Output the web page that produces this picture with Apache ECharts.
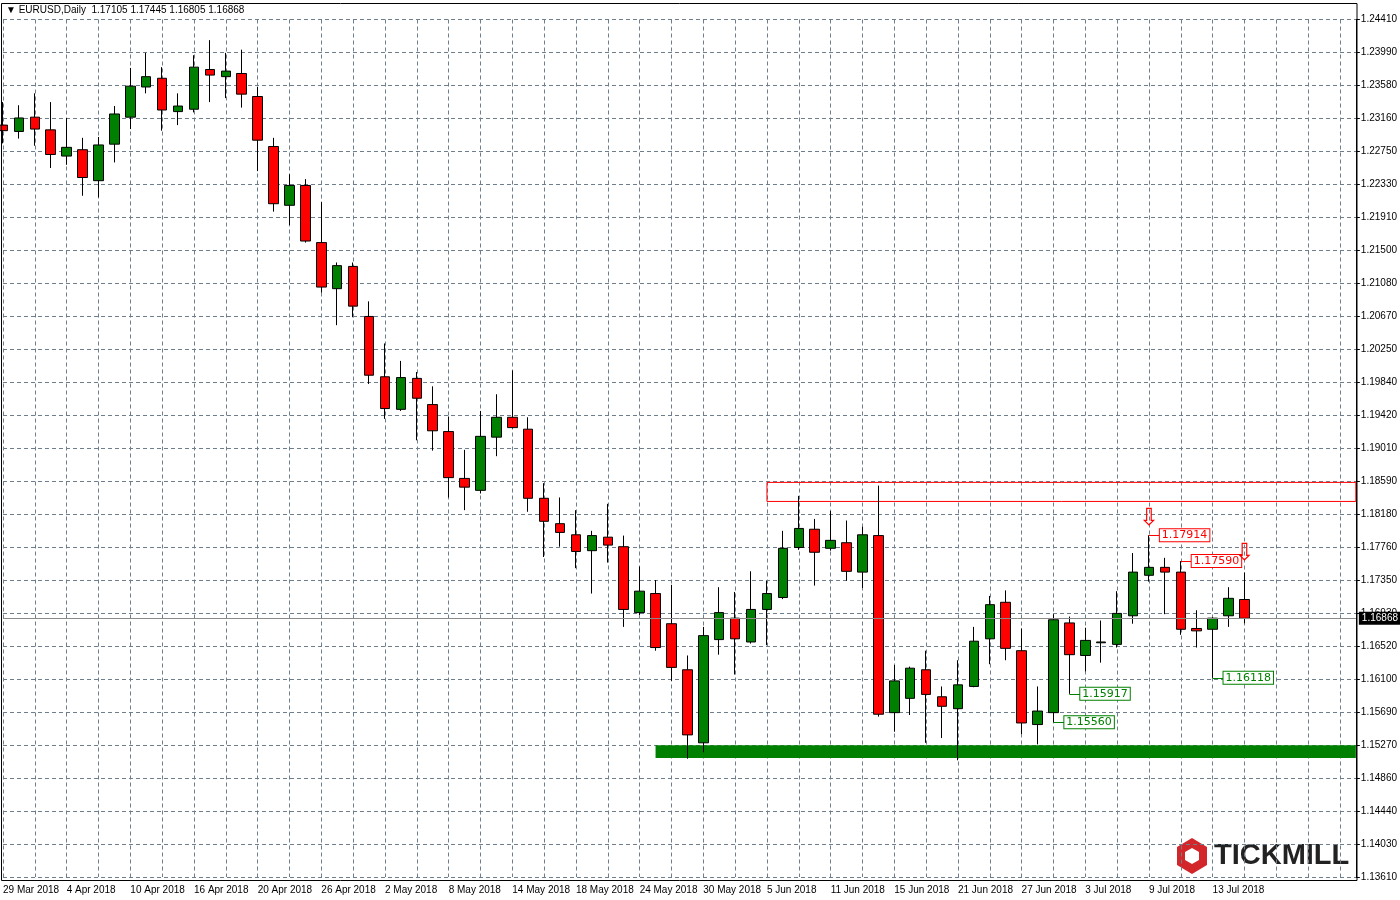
<!DOCTYPE html>
<html><head><meta charset="utf-8">
<script src="https://cdn.jsdelivr.net/npm/echarts@6/dist/echarts.min.js"></script>
<style>html,body{margin:0;padding:0;background:#fff;overflow:hidden}#c{width:1400px;height:900px}</style>
</head><body><div id="c"></div>
<script>
const dates = ['29 Mar 2018','30 Mar 2018','2 Apr 2018','3 Apr 2018','4 Apr 2018','5 Apr 2018','6 Apr 2018','9 Apr 2018','10 Apr 2018','11 Apr 2018','12 Apr 2018','13 Apr 2018','16 Apr 2018','17 Apr 2018','18 Apr 2018','19 Apr 2018','20 Apr 2018','23 Apr 2018','24 Apr 2018','25 Apr 2018','26 Apr 2018','27 Apr 2018','30 Apr 2018','1 May 2018','2 May 2018','3 May 2018','4 May 2018','7 May 2018','8 May 2018','9 May 2018','10 May 2018','11 May 2018','14 May 2018','15 May 2018','16 May 2018','17 May 2018','18 May 2018','21 May 2018','22 May 2018','23 May 2018','24 May 2018','25 May 2018','28 May 2018','29 May 2018','30 May 2018','31 May 2018','1 Jun 2018','4 Jun 2018','5 Jun 2018','6 Jun 2018','7 Jun 2018','8 Jun 2018','11 Jun 2018','12 Jun 2018','13 Jun 2018','14 Jun 2018','15 Jun 2018','18 Jun 2018','19 Jun 2018','20 Jun 2018','21 Jun 2018','22 Jun 2018','25 Jun 2018','26 Jun 2018','27 Jun 2018','28 Jun 2018','29 Jun 2018','2 Jul 2018','3 Jul 2018','4 Jul 2018','5 Jul 2018','6 Jul 2018','9 Jul 2018','10 Jul 2018','11 Jul 2018','12 Jul 2018','13 Jul 2018','16 Jul 2018','17 Jul 2018'];
const padSlots = ['','','','','','',''];
// [open, close, low, high]
const ohlc = [
[1.2308,1.2301,1.2285,1.2337],[1.2300,1.2317,1.2291,1.2333],[1.2318,1.2303,1.2282,1.2348],[1.2302,1.2271,1.2254,1.2337],
[1.2269,1.2280,1.2258,1.2317],[1.2277,1.2242,1.2219,1.2292],[1.2238,1.2283,1.2217,1.2293],[1.2284,1.2322,1.2261,1.2332],
[1.2318,1.2357,1.2303,1.2380],[1.2356,1.2369,1.2348,1.2399],[1.2367,1.2327,1.2301,1.2381],[1.2325,1.2332,1.2308,1.2348],
[1.2328,1.2381,1.2324,1.2396],[1.2378,1.2371,1.2337,1.2415],[1.2369,1.2376,1.2342,1.2399],[1.2373,1.2347,1.2330,1.2403],
[1.2344,1.2289,1.2250,1.2356],[1.2281,1.2209,1.2199,1.2292],[1.2207,1.2232,1.2182,1.2246],[1.2232,1.2162,1.2160,1.2240],
[1.2160,1.2104,1.2097,1.2211],[1.2102,1.2131,1.2056,1.2135],[1.2130,1.2080,1.2066,1.2135],[1.2067,1.1993,1.1982,1.2086],
[1.1991,1.1951,1.1938,1.2033],[1.1950,1.1990,1.1948,1.2011],[1.1989,1.1964,1.1911,1.1997],[1.1956,1.1923,1.1898,1.1979],
[1.1922,1.1864,1.1839,1.1941],[1.1863,1.1852,1.1823,1.1899],[1.1848,1.1916,1.1844,1.1948],[1.1915,1.1940,1.1891,1.1969],
[1.1940,1.1927,1.1926,1.1999],[1.1925,1.1838,1.1821,1.1940],[1.1838,1.1809,1.1764,1.1857],[1.1806,1.1795,1.1777,1.1839],
[1.1792,1.1771,1.1750,1.1823],[1.1772,1.1791,1.1718,1.1797],[1.1789,1.1779,1.1757,1.1831],[1.1777,1.1698,1.1676,1.1791],
[1.1694,1.1721,1.1691,1.1752],[1.1718,1.1650,1.1646,1.1735],[1.1680,1.1625,1.1608,1.1729],[1.1622,1.1540,1.1510,1.1640],
[1.1530,1.1665,1.1518,1.1676],[1.1660,1.1694,1.1641,1.1726],[1.1687,1.1661,1.1616,1.1720],[1.1657,1.1698,1.1655,1.1746],
[1.1698,1.1718,1.1653,1.1734],[1.1713,1.1775,1.1711,1.1797],[1.1776,1.1800,1.1773,1.1841],[1.1799,1.1770,1.1728,1.1812],
[1.1775,1.1785,1.1772,1.1822],[1.1782,1.1746,1.1734,1.1810],[1.1745,1.1792,1.1725,1.1802],[1.1791,1.1566,1.1563,1.1854],
[1.1568,1.1608,1.1544,1.1628],[1.1586,1.1624,1.1565,1.1626],[1.1622,1.1591,1.1530,1.1646],[1.1588,1.1576,1.1536,1.1601],
[1.1573,1.1603,1.1508,1.1634],[1.1601,1.1658,1.1600,1.1676],[1.1661,1.1704,1.1629,1.1715],[1.1707,1.1649,1.1634,1.1722],
[1.1646,1.1555,1.1541,1.1674],[1.1553,1.1570,1.1528,1.1601],[1.1568,1.1685,1.1556,1.1692],[1.1681,1.1641,1.15917,1.1689],
[1.1640,1.1659,1.1620,1.1675],[1.1656,1.1657,1.1631,1.1684],[1.1654,1.1693,1.1650,1.1721],[1.1690,1.1745,1.1680,1.1769],
[1.1741,1.1751,1.1733,1.17914],[1.1751,1.1745,1.1692,1.1763],[1.1745,1.1673,1.1666,1.17590],[1.1674,1.1671,1.1650,1.1697],
[1.1673,1.1687,1.16118,1.1688],[1.1690,1.1712,1.1676,1.1726],[1.17105,1.16868,1.16805,1.17445]
];
const yTickLabels = ['1.13610','1.14030','1.14440','1.14860','1.15270','1.15690','1.16100','1.16520','1.16930','1.17350','1.17760','1.18180','1.18590','1.19010','1.19420','1.19840','1.20250','1.20670','1.21080','1.21500','1.21910','1.22330','1.22750','1.23160','1.23580','1.23990','1.24410'];
const lastPrice = 1.16868;
const resistZone = [1.1834, 1.1858];
const supportZone = [1.1511, 1.1527];
const redTags = [[72, 1.17914], [74, 1.17590]];
const greenTags = [[67, 1.15917], [66, 1.15560], [76, 1.16118]];
const arrows = [[72, 1.1812], [78, 1.1768]];
const header = '▼ EURUSD,Daily  1.17105 1.17445 1.16805 1.16868';

const yMin = 1.1361, yMax = 1.2441, yStep = (yMax - yMin) / 26;
const cats = dates.concat(padSlots);
const tagPt = (t, col) => ({
  coord: [t[0] + 1, t[1]], symbol: 'rect', symbolSize: 0,
  label: { show: true, position: 'right', offset: [-10, 0], formatter: t[1].toFixed(5),
    color: col, borderColor: col, borderWidth: 1, backgroundColor: '#fff',
    padding: [1, 2, 0, 2], fontSize: 11, fontFamily: 'DejaVu Sans' }
});
const tagLine = (t) => [{ coord: [t[0], t[1]] }, { coord: [t[0] + 1, t[1]] }];

const chart = echarts.init(document.getElementById('c'));
chart.setOption({
  animation: false,
  backgroundColor: '#fff',
  grid: { left: 3, right: 36, top: 19.5, bottom: 23 },
  xAxis: {
    type: 'category', data: cats, boundaryGap: false,
    axisLine: { show: false }, axisTick: { show: false },
    axisLabel: { interval: 3, align: 'left', margin: 8, fontSize: 10, color: '#000', fontFamily: 'Liberation Sans', showMaxLabel: false },
    splitLine: { show: true, interval: 1, lineStyle: { color: '#6e7e8c', type: [4, 3], width: 1 } }
  },
  yAxis: {
    type: 'value', position: 'right', min: yMin, max: yMax, interval: yStep,
    axisLine: { show: true, lineStyle: { color: '#000' } },
    axisTick: { show: true, length: 4, lineStyle: { color: '#000' } },
    axisLabel: { margin: 5, fontSize: 10, color: '#000', fontFamily: 'Liberation Sans',
      formatter: v => yTickLabels[Math.round((v - yMin) / yStep)] || '' },
    splitLine: { show: true, lineStyle: { color: '#6e7e8c', type: [4, 3], width: 1 } }
  },
  series: [{
    type: 'candlestick', data: ohlc, barWidth: 10,
    itemStyle: { color: '#008000', color0: '#ff0000', borderColor: '#000', borderColor0: '#000', borderWidth: 1 },
    markArea: {
      silent: true,
      data: [
        [{ xAxis: 48, yAxis: resistZone[0], itemStyle: { color: 'rgba(0,0,0,0)', borderColor: '#ff0000', borderWidth: 1 } }, { xAxis: cats.length - 1, yAxis: resistZone[1] }],
        [{ xAxis: 41, yAxis: supportZone[0], itemStyle: { color: '#008000', borderWidth: 0 } }, { xAxis: cats.length - 1, yAxis: supportZone[1] }]
      ]
    },
    markLine: {
      silent: true, symbol: 'none',
      data: [
        [{ xAxis: 0, yAxis: lastPrice }, { xAxis: cats.length - 1, yAxis: lastPrice,
          label: { show: true, position: 'end', formatter: lastPrice.toFixed(5), color: '#fff', backgroundColor: '#000', padding: [2, 3, 1, 3], fontSize: 10, fontFamily: 'Liberation Sans', distance: 3 } }],
        ...redTags.map(t => tagLine(t).map((p, i) => Object.assign(p, i ? {} : { lineStyle: { color: '#ff0000', type: 'solid', width: 1 } }))),
        ...greenTags.map(t => tagLine(t).map((p, i) => Object.assign(p, i ? {} : { lineStyle: { color: '#008000', type: 'solid', width: 1 } })))
      ],
      lineStyle: { color: '#8a8a8a', type: 'solid', width: 1 },
      label: { show: false }
    },
    markPoint: {
      silent: true,
      data: [
        ...redTags.map(t => tagPt(t, '#ff0000')),
        ...greenTags.map(t => tagPt(t, '#008000')),
        ...arrows.map(a => ({ coord: a, symbolSize: 0, label: { show: true, position: 'inside', formatter: '⇩', color: '#ff0000', fontSize: 24, fontFamily: 'DejaVu Sans' } }))
      ]
    }
  }],
  graphic: [
    { type: 'rect', shape: { x: 1.5, y: 3.5, width: 1355.5, height: 877 }, style: { fill: 'none', stroke: '#000', lineWidth: 1 }, silent: true, z: 10 },
    { type: 'text', left: 6, top: 5, style: { text: header, fontSize: 10, fill: '#000', font: '10px "DejaVu Sans"' } },
    { type: 'polygon', shape: { points: [[1192, 838], [1207, 847], [1207, 865], [1192, 874], [1177, 865], [1177, 847]] }, style: { fill: '#d3262b' } },
    { type: 'polygon', shape: { points: [[1192, 848], [1199, 852], [1199, 860], [1192, 864], [1185, 860], [1185, 852]] }, style: { fill: '#fff' } },
    { type: 'text', left: 1214, top: 841, style: { text: 'TICKMILL', font: 'bold 29px "Liberation Sans"', fill: '#222' } }
  ]
});
</script></body></html>
